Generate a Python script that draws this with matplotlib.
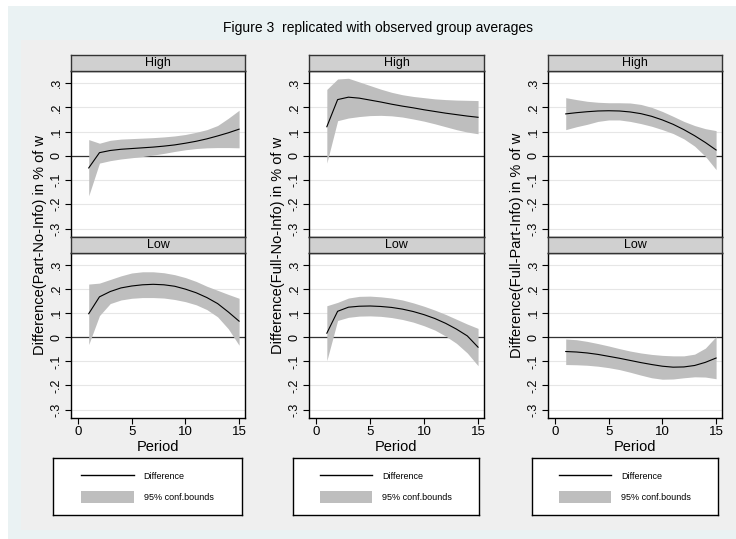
import matplotlib
matplotlib.use("Agg")
import matplotlib.pyplot as plt
from matplotlib.patches import Rectangle, Patch
from matplotlib.lines import Line2D

plt.rcParams['font.family'] = ['Liberation Sans', 'DejaVu Sans']

periods = list(range(1, 16))

# column 1: Part vs No-Info
pn_high = [-0.050, 0.013, 0.022, 0.027, 0.030, 0.033, 0.036, 0.040, 0.045, 0.052, 0.060, 0.070, 0.082, 0.095, 0.110]
pn_high_up = [0.067, 0.052, 0.064, 0.069, 0.071, 0.073, 0.075, 0.078, 0.082, 0.088, 0.097, 0.108, 0.125, 0.155, 0.188]
pn_high_lo = [-0.165, -0.030, -0.020, -0.013, -0.008, -0.003, 0.003, 0.010, 0.018, 0.025, 0.030, 0.033, 0.034, 0.034, 0.033]
pn_low = [0.098, 0.168, 0.190, 0.205, 0.213, 0.218, 0.220, 0.218, 0.212, 0.200, 0.185, 0.165, 0.140, 0.105, 0.067]
pn_low_up = [0.221, 0.225, 0.240, 0.255, 0.267, 0.272, 0.272, 0.268, 0.260, 0.248, 0.232, 0.212, 0.195, 0.178, 0.162]
pn_low_lo = [-0.030, 0.090, 0.140, 0.155, 0.162, 0.165, 0.165, 0.163, 0.157, 0.148, 0.135, 0.115, 0.085, 0.035, -0.033]

# column 2: Full vs No-Info
fn_high = [0.120, 0.232, 0.242, 0.238, 0.230, 0.222, 0.213, 0.205, 0.198, 0.190, 0.183, 0.176, 0.170, 0.164, 0.159]
fn_high_up = [0.274, 0.317, 0.320, 0.305, 0.290, 0.275, 0.262, 0.252, 0.245, 0.240, 0.235, 0.232, 0.230, 0.229, 0.228]
fn_high_lo = [-0.030, 0.145, 0.156, 0.162, 0.166, 0.167, 0.165, 0.160, 0.152, 0.143, 0.132, 0.120, 0.108, 0.098, 0.091]
fn_low = [0.017, 0.108, 0.125, 0.129, 0.130, 0.128, 0.124, 0.117, 0.107, 0.094, 0.078, 0.058, 0.034, 0.006, -0.041]
fn_low_up = [0.131, 0.145, 0.163, 0.170, 0.171, 0.168, 0.163, 0.155, 0.143, 0.129, 0.113, 0.095, 0.075, 0.055, 0.037]
fn_low_lo = [-0.097, 0.070, 0.083, 0.088, 0.089, 0.087, 0.082, 0.074, 0.063, 0.048, 0.030, 0.005, -0.025, -0.065, -0.118]

# column 3: Full vs Part-Info
fp_high = [0.173, 0.178, 0.182, 0.185, 0.186, 0.185, 0.181, 0.174, 0.163, 0.148, 0.130, 0.108, 0.083, 0.055, 0.024]
fp_high_up = [0.240, 0.232, 0.225, 0.221, 0.219, 0.219, 0.218, 0.212, 0.200, 0.183, 0.163, 0.142, 0.125, 0.112, 0.104]
fp_high_lo = [0.108, 0.120, 0.130, 0.142, 0.148, 0.148, 0.142, 0.133, 0.122, 0.108, 0.092, 0.070, 0.040, -0.002, -0.057]
fp_low = [-0.059, -0.061, -0.065, -0.071, -0.079, -0.087, -0.096, -0.105, -0.113, -0.120, -0.124, -0.123, -0.117, -0.104, -0.086]
fp_low_up = [-0.007, -0.010, -0.017, -0.026, -0.036, -0.047, -0.057, -0.065, -0.071, -0.075, -0.077, -0.077, -0.070, -0.045, 0.003]
fp_low_lo = [-0.113, -0.114, -0.116, -0.120, -0.126, -0.134, -0.145, -0.157, -0.168, -0.174, -0.173, -0.168, -0.164, -0.165, -0.172]

ylabels = ["Difference(Part-No-Info) in % of w",
           "Difference(Full-No-Info) in % of w",
           "Difference(Full-Part-Info) in % of w"]
row_names = ["High", "Low"]
yticks = [-0.3, -0.2, -0.1, 0, 0.1, 0.2, 0.3]
ytick_labels = ["-.3", "-.2", "-.1", "0", ".1", ".2", ".3"]
xticks = [0, 5, 10, 15]

columns = [
    [(pn_high, pn_high_lo, pn_high_up), (pn_low, pn_low_lo, pn_low_up)],
    [(fn_high, fn_high_lo, fn_high_up), (fn_low, fn_low_lo, fn_low_up)],
    [(fp_high, fp_high_lo, fp_high_up), (fp_low, fp_low_lo, fp_low_up)],
]

W, H = 736, 539
fig = plt.figure(figsize=(W / 100, H / 100), dpi=100)
fig.patch.set_facecolor('white')


def box(x0, y0, x1, y1):
    # pixel box (top-left origin) -> figure fraction rect
    return [x0 / W, 1 - y1 / H, (x1 - x0) / W, (y1 - y0) / H]


# backgrounds
fig.patches.append(Rectangle((8 / W, 0), 1, 1 - 6 / H, transform=fig.transFigure,
                             facecolor='#eaf2f3', edgecolor='none', zorder=-10))
fig.patches.append(Rectangle((21 / W, 1 - 530 / H), 1, (530 - 40) / H, transform=fig.transFigure,
                             facecolor='#efefef', edgecolor='none', zorder=-9))

fig.text(378 / W, 1 - 28 / H, "Figure 3  replicated with observed group averages",
         ha='center', va='center', fontsize=10)

col_x = [(71, 245), (309, 484), (548, 722)]
row_y = [(55, 71, 237), (237, 253, 418)]
leg_x = [(53, 242), (293, 479), (532, 718)]
ylab_x = [40, 278, 517]

for c, (x0, x1) in enumerate(col_x):
    for r, (s0, p0, p1) in enumerate(row_y):
        diff, lo, up = columns[c][r]
        ax = fig.add_axes(box(x0, p0, x1, p1))
        ax.set_facecolor('white')
        ax.fill_between(periods, lo, up, color='#bebebe', linewidth=0, zorder=2)
        ax.plot(periods, diff, color='black', linewidth=0.8, zorder=3)
        ax.axhline(0, color='#333333', linewidth=0.9, zorder=1)
        ax.set_xlim(-0.65, 15.55)
        ax.set_ylim(-0.335, 0.35)
        ax.set_yticks(yticks)
        ax.set_yticklabels(ytick_labels, rotation=90, va='center', fontsize=9)
        ax.grid(axis='y', color='#e6e6e6', linewidth=0.8, zorder=0)
        ax.set_axisbelow(True)
        ax.tick_params(axis='y', length=4, width=0.8, pad=2)
        ax.set_xticks(xticks)
        if r == 1:
            ax.tick_params(axis='x', length=4, width=0.8, labelsize=9.5, pad=2)
            ax.set_xlabel("Period", fontsize=10.5, labelpad=1)
        else:
            ax.tick_params(axis='x', length=0, labelbottom=False)
        for sp in ax.spines.values():
            sp.set_color('black')
            sp.set_linewidth(1.0)

        # strip with row name
        sax = fig.add_axes(box(x0, s0, x1, p0))
        sax.set_facecolor('#d0d0d0')
        sax.set_xticks([])
        sax.set_yticks([])
        for sp in sax.spines.values():
            sp.set_color('#333333')
            sp.set_linewidth(1.0)
        sax.text(0.5, 0.5, row_names[r], ha='center', va='center', fontsize=9,
                 transform=sax.transAxes)

    fig.text(ylab_x[c] / W, 1 - 245 / H, ylabels[c], rotation=90,
             ha='center', va='center', fontsize=10.5)

    # legend box
    lx0, lx1 = leg_x[c]
    lax = fig.add_axes(box(lx0, 458, lx1, 515))
    lax.set_facecolor('white')
    lax.set_xticks([])
    lax.set_yticks([])
    for sp in lax.spines.values():
        sp.set_color('black')
        sp.set_linewidth(1.0)
    handles = [Line2D([0], [0], color='black', linewidth=1.0),
               Patch(facecolor='#bebebe', edgecolor='none')]
    lax.legend(handles, ["Difference", "95% conf.bounds"], loc='center',
               frameon=False, fontsize=6.5, handlelength=5.8, handleheight=1.7,
               labelspacing=0.9, handletextpad=1.1)

fig.savefig("out.png", dpi=100)
